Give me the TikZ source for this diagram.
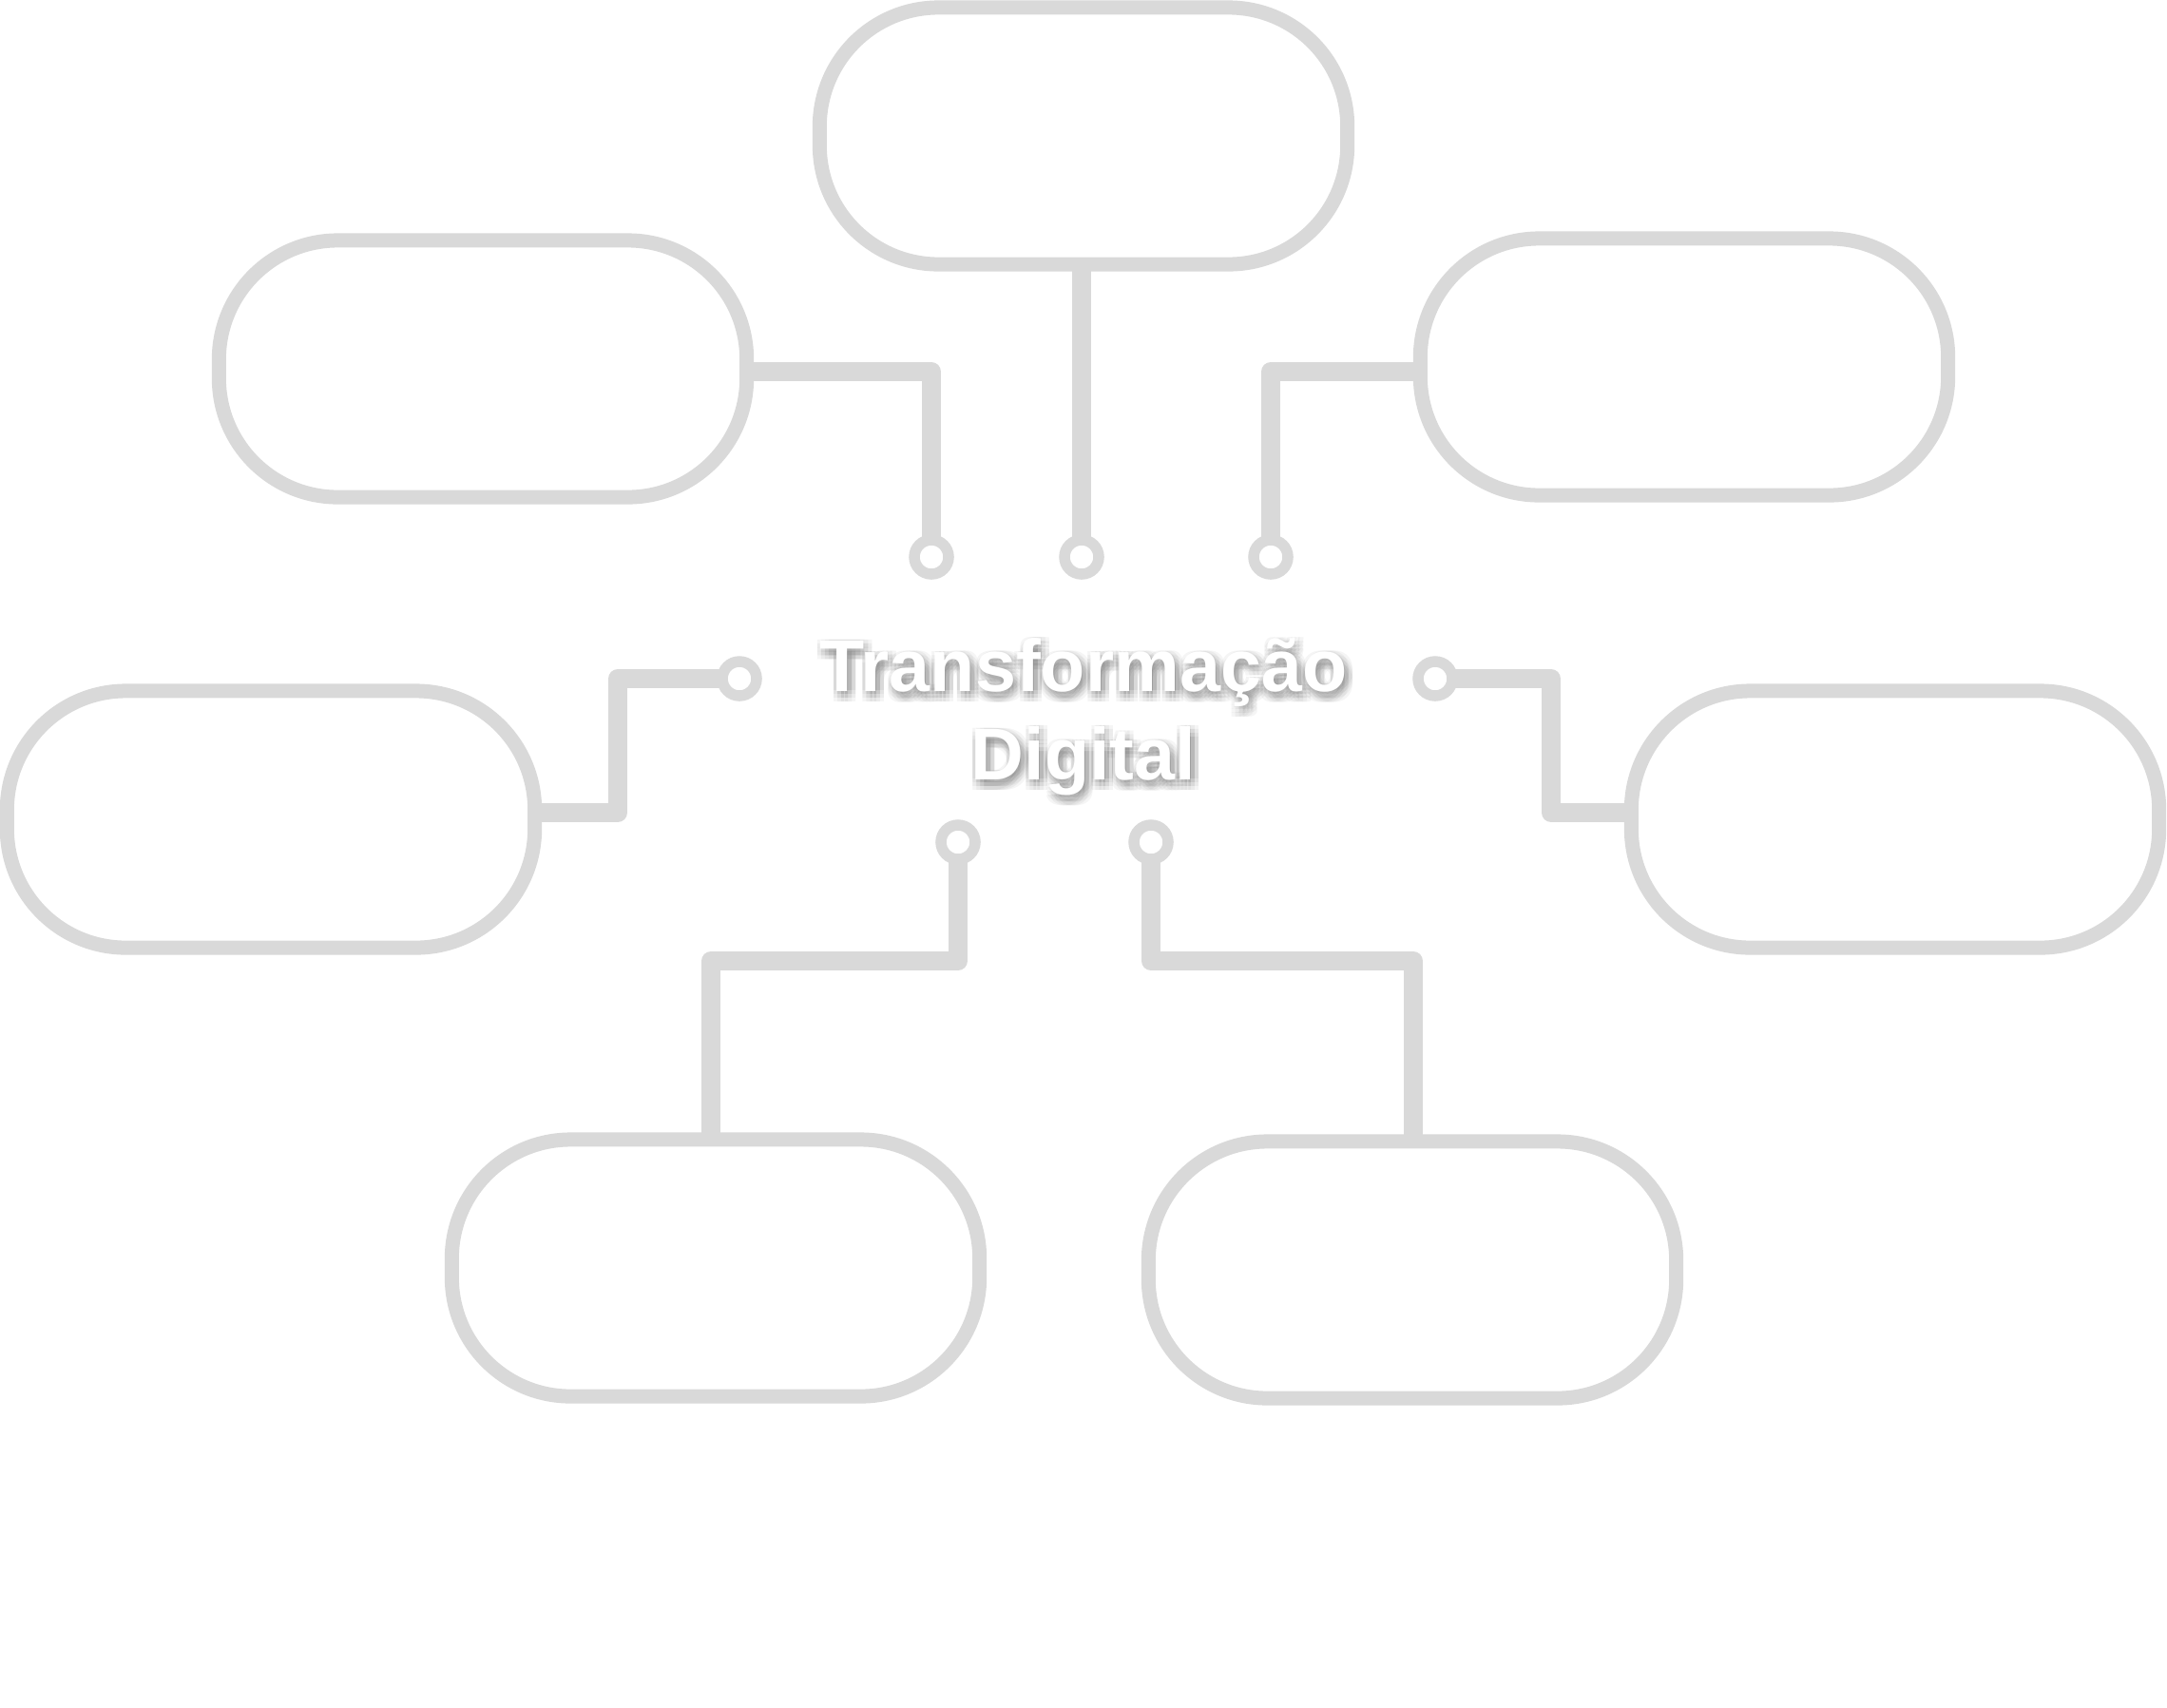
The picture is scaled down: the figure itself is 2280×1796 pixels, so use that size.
\documentclass[tikz,border=0pt]{standalone}
\usepackage{fontspec}
\setmainfont{Liberation Sans}
\usepackage{xcolor}
\usepackage{tikz}
\usetikzlibrary{calc}

\definecolor{linegray}{HTML}{D9D9D9}

\begin{document}
\begin{tikzpicture}[x=0.01cm, y=-0.01cm,
  panel/.style={rectangle, draw=linegray, line width=0.15cm, rounded corners=1.25cm, minimum width=5.55cm, minimum height=2.7cm, outer sep=0pt},
  pin/.style={circle, draw=linegray, line width=0.115cm, minimum size=0.36cm, inner sep=0pt, outer sep=0pt},
  wire/.style={draw=linegray, line width=0.2cm, line join=round},
  titletext/.style={align=center, font=\bfseries\fontsize{22}{26.6}\selectfont}]
\useasboundingbox (0,0) rectangle (2280,1796);

\node [panel] (top) at (1140,143) {};
\node [panel] (ul) at (508,388) {};
\node [panel] (ur) at (1772,386) {};
\node [panel] (ml) at (285,862) {};
\node [panel] (mr) at (1994,862) {};
\node [panel] (bl) at (753,1334) {};
\node [panel] (br) at (1486,1336) {};

\node [pin] (p1) at (980,586) {};
\node [pin] (p2) at (1138,586) {};
\node [pin] (p3) at (1337,586) {};
\node [pin] (p4) at (778,714) {};
\node [pin] (p5) at (1510,714) {};
\node [pin] (p6) at (1008,886) {};
\node [pin] (p7) at (1211,886) {};

\draw [wire] (top.south -| p2) -- (p2);
\draw [wire] ($(ul.east)+(0,3)$) -| (p1);
\draw [wire] ($(ur.west)+(0,5)$) -| (p3);
\draw [wire] ($(ml.east)+(0,-7)$) -- (650,855) |- (p4);
\draw [wire] ($(mr.west)+(0,-7)$) -- (1632,855) |- (p5);
\draw [wire] ($(bl.north)+(-5,0)$) |- (1008,1011) -- (p6);
\draw [wire] ($(br.north)+(1,0)$) |- (1211,1011) -- (p7);

% soft shadow under the title
\foreach \dx in {-3,1,5,9}
  \foreach \dy in {-1,3,7,11}
    \node [titletext, text=black, opacity=0.04] (shadow\dx\dy) at (1140+\dx,754+\dy) {Transformação\\Digital};
\node [titletext, text=white] (title) at (1140,754) {Transformação\\Digital};

\end{tikzpicture}
\end{document}
